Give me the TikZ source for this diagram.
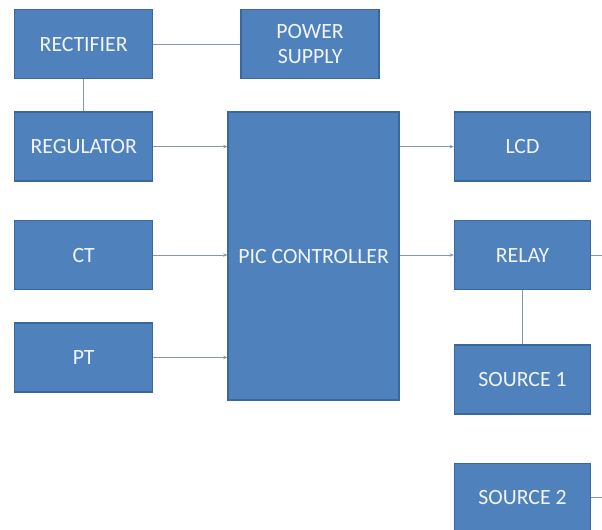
\documentclass[tikz,border=0pt]{standalone}
\usepackage{fontspec}
\setmainfont{Carlito}
\usepackage{tikz}
\usetikzlibrary{positioning}
\usetikzlibrary{arrows.meta}
\definecolor{boxblue}{HTML}{4F81BD}
\definecolor{boxedge}{HTML}{3A679C}
\definecolor{wiregray}{HTML}{8497B0}
\tikzset{
    block diagram/.style={
            node distance=1cm,
            block/.style={draw=boxedge, line width=1pt, fill=boxblue, text=white!92!boxblue,
                    minimum width=3.45cm, minimum height=1.725cm, align=center,
                    font=\fontsize{15.5}{18}\selectfont},
            wire/.style={draw=wiregray, line width=0.7pt},
            arrow/.style={wire, -{Stealth[length=3pt,width=2.5pt]}}
        }
    }

\begin{document}
\begin{tikzpicture}[block diagram]
    \useasboundingbox (0,0) rectangle (15.05,-13.225);
    \node (rect) [block, anchor=north west] at (0.35,-0.225) {RECTIFIER};
    \node (psu) [block, right=2.175cm of rect] {POWER\\SUPPLY};
    \node (reg) [block, below=0.8cm of rect] {REGULATOR};
    \node (ct) [block, below=0.95cm of reg] {CT};
    \node (pt) [block, below=0.8cm of ct] {PT};
    \node (pic) [block, minimum width=4.275cm, minimum height=7.2cm, below right=0cm and 1.85cm of reg.north east] {PIC CONTROLLER};
    \node (lcd) [block, minimum width=3.4cm, below right=0cm and 1.35cm of pic.north east] {LCD};
    \node (relay) [block, minimum width=3.4cm, below=0.95cm of lcd] {RELAY};
    \node (src1) [block, minimum width=3.4cm, below=1.35cm of relay] {SOURCE 1};
    \node (src2) [block, minimum width=3.4cm, below=1.2cm of src1] {SOURCE 2};
    \coordinate (rim) at (15.05,0);
    \draw [wire] (rect) -- (psu);
    \draw [wire] (rect) -- (reg);
    \draw [arrow] (reg) -- (reg -| pic.west);
    \draw [arrow] (ct) -- (ct -| pic.west);
    \draw [arrow] (pt) -- (pt -| pic.west);
    \draw [arrow] (lcd -| pic.east) -- (lcd);
    \draw [arrow] (relay -| pic.east) -- (relay);
    \draw [wire] (relay) -- (src1);
    \draw [wire] (relay.east) -- (relay.east -| rim);
    \draw [wire] (src2.east) -- (src2.east -| rim);
\end{tikzpicture}
\end{document}
